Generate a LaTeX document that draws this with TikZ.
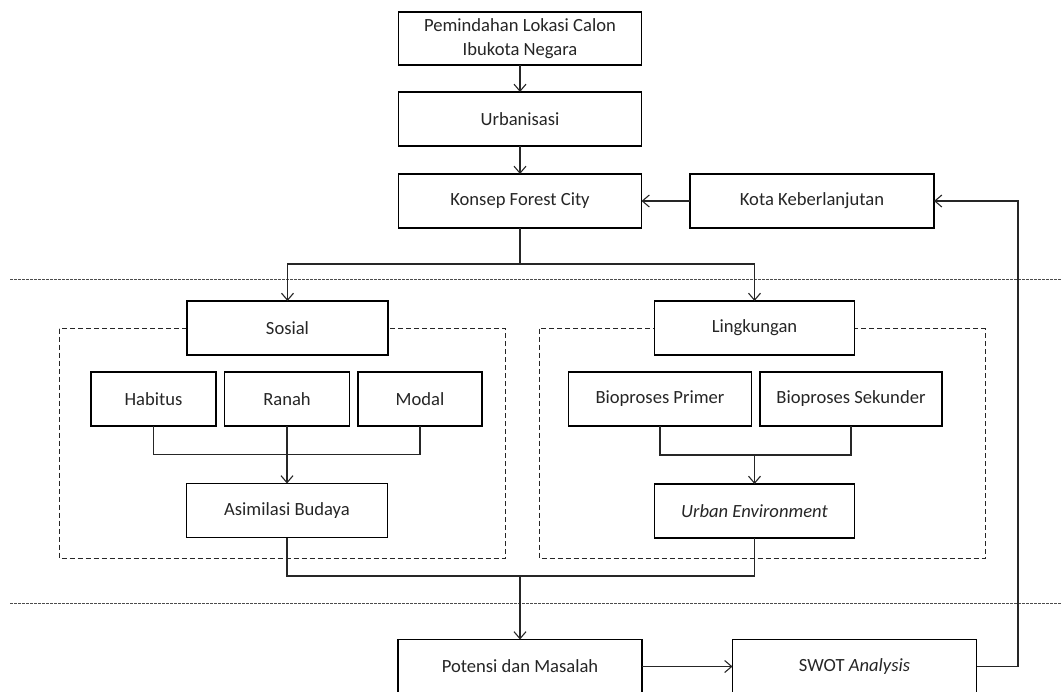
\documentclass[tikz,border=0pt]{standalone}
\usepackage{fontspec}
\setmainfont{Carlito}
\usetikzlibrary{arrows.meta, positioning, backgrounds}

\tikzset{
  blok/.style={draw, line width=1.2pt, fill=white, minimum height=54pt, inner sep=0pt, outer sep=0pt,
    text=black!85, font=\fontsize{18.6}{23.5}\selectfont, align=center},
  garis/.style={line width=1.1pt, black!85},
  panah/.style={garis, -{Straight Barb[length=7pt,width=12pt]}},
  grup/.style={line width=1pt, black!85, dash pattern=on 5pt off 3pt},
  sekat/.style={line width=1.2pt, gray!60!black, dash pattern=on 2.5pt off 1.5pt}
}

\begin{document}
\begin{tikzpicture}[x=1pt, y=-1pt]
  \clip (0,0) rectangle (1062,691);
  % separator lines between the three stages
  \draw[sekat] (10,279.5) -- (1062,279.5);
  \draw[sekat] (10,603.5) -- (1062,603.5);
  % top column
  \node[blok, minimum width=243pt, minimum height=53pt] (lokasi) at (520,38.5) {Pemindahan Lokasi Calon\\Ibukota Negara};
  \node[blok, minimum width=243pt] (urban) at (520,119) {Urbanisasi};
  \node[blok, minimum width=243pt] (konsep) at (520,201) {Konsep Forest City};
  \node[blok, minimum width=244pt] (kota) at (812,201) {Kota Keberlanjutan};
  % social group
  \node[blok, minimum width=201pt] (sosial) at (287.5,328) {Sosial};
  \node[blok, minimum width=125pt] (habitus) at (153.5,399) {Habitus};
  \node[blok, minimum width=125pt] (ranah) at (287,399) {Ranah};
  \node[blok, minimum width=124pt] (modal) at (420,399) {Modal};
  \node[blok, minimum width=201pt] (asimilasi) at (287,510.5) {Asimilasi Budaya};
  % environment group
  \node[blok, minimum width=200pt] (lingk) at (754.5,328) {Lingkungan};
  \node[blok, minimum width=183pt] (primer) at (660,399) {Bioproses Primer};
  \node[blok, minimum width=182pt] (sekunder) at (851,399) {Bioproses Sekunder};
  \node[blok, minimum width=200pt] (urbenv) at (754.5,511) {\textit{Urban Environment}};
  % bottom row
  \node[blok, minimum width=244pt] (potensi) at (520,666.5) {Potensi dan Masalah};
  \node[blok, minimum width=244pt] (swot) at (854.5,666.5) {SWOT \textit{Analysis}};
  % dashed group frames
  \begin{scope}[on background layer]
    \draw[grup] (59,328.5) rectangle (505.5,558);
    \draw[grup] (539,328.5) rectangle (985,558);
  \end{scope}
  % connectors
  \draw[panah] (lokasi) -- (urban);
  \draw[panah] (urban) -- (konsep);
  \draw[panah] (kota) -- (konsep);
  \coordinate (cabang) at (konsep.south |- 0,264);
  \draw[garis] (konsep.south) -- (cabang);
  \draw[panah] (cabang) -| (sosial.north);
  \draw[panah] (cabang) -| (lingk.north);
  \coordinate (gabungS) at (ranah.south |- 0,454.5);
  \draw[garis] (habitus.south) |- (gabungS) -| (modal.south);
  \draw[panah] (ranah.south) -- (asimilasi.north);
  \coordinate (gabungL) at (urbenv.north |- 0,455);
  \draw[garis] (primer.south) |- (gabungL) -| (sekunder.south);
  \draw[panah] (gabungL) -- (urbenv.north);
  \coordinate (gabung) at (potensi.north |- 0,576);
  \draw[garis] (asimilasi.south) |- (gabung) -| (urbenv.south);
  \draw[panah] (gabung) -- (potensi.north);
  \draw[panah] (potensi) -- (swot);
  \coordinate (balik) at (1018,666.5);
  \draw[panah] (swot.east) -- (balik) |- (kota.east);
\end{tikzpicture}
\end{document}
